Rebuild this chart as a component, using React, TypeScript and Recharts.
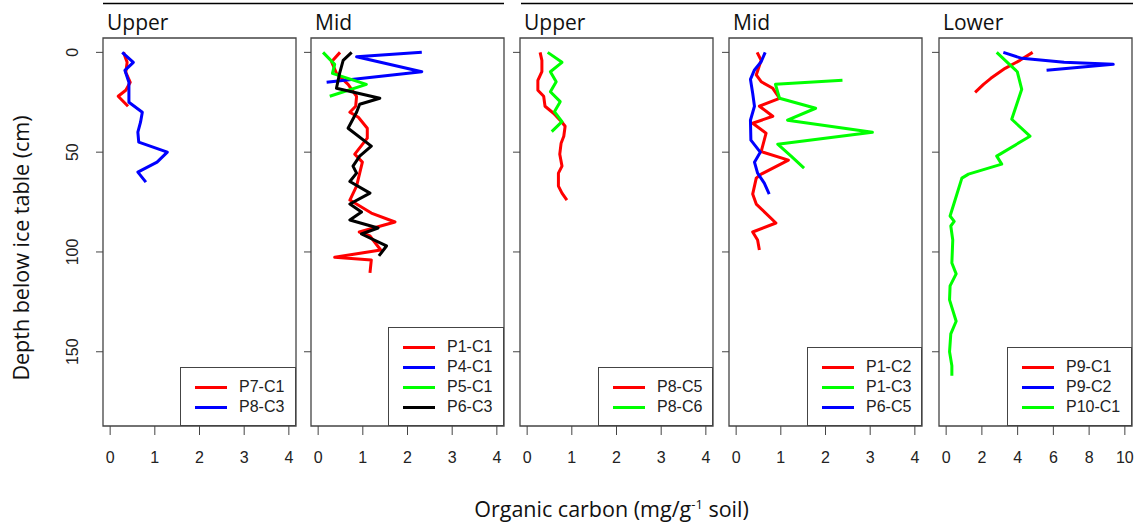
import React from 'react';
import { ScatterChart, Scatter, XAxis, YAxis, Legend, ReferenceArea } from 'recharts';

// each point is [depth below ice table (cm), organic carbon]
const p7c1: [number, number][] = [[0, 0.3], [5, 0.38], [10, 0.35], [15, 0.45], [19, 0.35], [22, 0.18], [27, 0.4]];
const p8c3: [number, number][] = [[0, 0.27], [5, 0.52], [9, 0.33], [15, 0.42], [25, 0.42], [30, 0.72], [35, 0.68], [40, 0.62], [45, 0.64], [50, 1.28], [55, 1.05], [60, 0.62], [65, 0.8]];

const p1c1: [number, number][] = [[0, 0.49], [4.7, 0.3], [10.5, 0.41], [16, 0.67], [22, 0.86], [27, 0.84], [30, 0.71], [32.5, 0.9], [38, 1.1], [43, 1.1], [51, 0.82], [55, 0.99], [60.5, 0.93], [67, 0.86], [74, 0.71], [80.5, 1.19], [85, 1.72], [90, 0.92], [92, 1.16], [99, 1.4], [102.7, 0.37], [104, 1.19], [110.5, 1.16]];
const p4c1: [number, number][] = [[0, 2.32], [2.2, 0.86], [9.7, 2.32], [15, 0.19]];
const p5c1: [number, number][] = [[0, 0.11], [6, 0.37], [10.5, 0.32], [16, 1.08], [22, 0.26]];
const p6c3: [number, number][] = [[0, 0.75], [4, 0.56], [10.5, 0.48], [18, 0.41], [23, 1.38], [26, 0.93], [30, 0.86], [38, 0.67], [47, 1.19], [52, 0.93], [57, 0.78], [60.5, 0.86], [64.7, 0.71], [70.5, 1.16], [76, 0.71], [80, 0.97], [84, 0.71], [88, 1.34], [91, 0.97], [97, 1.53], [102, 1.36]];

const p8c5: [number, number][] = [[0, 0.29], [4, 0.33], [9.7, 0.33], [14, 0.24], [19, 0.24], [22, 0.37], [27, 0.4], [30.5, 0.59], [35, 0.78], [37, 0.85], [42, 0.82], [45.5, 0.76], [51, 0.73], [57, 0.78], [60.5, 0.7], [67, 0.7], [70.5, 0.78], [74, 0.89]];
const p8c6: [number, number][] = [[0, 0.46], [5, 0.78], [9.7, 0.52], [14.7, 0.65], [19.7, 0.52], [24.7, 0.74], [29.7, 0.61], [34.7, 0.78], [39.7, 0.55]];

const p1c2: [number, number][] = [[0, 0.47], [4, 0.56], [11.3, 0.45], [14.7, 0.56], [18, 0.82], [23, 0.97], [27, 0.52], [32, 0.82], [35.5, 0.37], [40.5, 0.67], [49.7, 0.56], [54, 1.17], [61, 0.56], [63, 0.45], [71, 0.37], [76, 0.45], [85.5, 0.89], [90, 0.37], [94, 0.48], [99, 0.52]];
const p1c3: [number, number][] = [[14, 2.38], [16, 0.88], [23, 0.97], [28, 1.78], [34, 1.15], [40, 3.05], [46, 0.93], [52, 1.23], [58, 1.52]];
const p6c5: [number, number][] = [[0, 0.65], [4.7, 0.56], [8.8, 0.41], [13.5, 0.32], [20.5, 0.37], [27, 0.41], [34, 0.32], [44, 0.33], [50, 0.54], [55, 0.41], [60.5, 0.48], [65.5, 0.63], [71, 0.74]];

const p9c1: [number, number][] = [[0, 4.84], [4, 4.13], [8, 3.3], [13, 2.5], [16, 2.09], [20, 1.62]];
const p9c2: [number, number][] = [[0, 3.2], [3, 4.23], [5, 6.6], [6, 9.35], [9, 5.62]];
const p10c1: [number, number][] = [[0, 2.83], [5.5, 3.48], [9.7, 3.98], [18.5, 4.23], [33.5, 3.67], [42, 4.69], [52, 2.83], [56, 3.11], [61, 1.25], [63, 0.88], [74, 0.5], [82, 0.22], [84.7, 0.45], [87, 0.26], [94, 0.37], [105.5, 0.32], [111, 0.56], [117, 0.22], [124, 0.19], [134.7, 0.56], [141, 0.26], [150, 0.19], [157, 0.32], [162, 0.32]];

const depthTicks = [0, 50, 100, 150];
const ticks4 = [0, 1, 2, 3, 4];
const ticks10 = [0, 2, 4, 6, 8, 10];

const RED = '#ff0000';
const BLUE = '#0000ff';
const GREEN = '#00ff00';
const BLACK = '#000000';

const panels = [
  { title: 'Upper', left: 103, xMax: 4, xTicks: ticks4, legendW: 116, series: [
    { name: 'P7-C1', color: RED, data: p7c1 },
    { name: 'P8-C3', color: BLUE, data: p8c3 },
  ] },
  { title: 'Mid', left: 311, xMax: 4, xTicks: ticks4, legendW: 116, series: [
    { name: 'P1-C1', color: RED, data: p1c1 },
    { name: 'P4-C1', color: BLUE, data: p4c1 },
    { name: 'P5-C1', color: GREEN, data: p5c1 },
    { name: 'P6-C3', color: BLACK, data: p6c3 },
  ] },
  { title: 'Upper', left: 520, xMax: 4, xTicks: ticks4, legendW: 115, series: [
    { name: 'P8-C5', color: RED, data: p8c5 },
    { name: 'P8-C6', color: GREEN, data: p8c6 },
  ] },
  { title: 'Mid', left: 729, xMax: 4, xTicks: ticks4, legendW: 115, series: [
    { name: 'P1-C2', color: RED, data: p1c2 },
    { name: 'P1-C3', color: GREEN, data: p1c3 },
    { name: 'P6-C5', color: BLUE, data: p6c5 },
  ] },
  { title: 'Lower', left: 939, xMax: 10, xTicks: ticks10, legendW: 125, series: [
    { name: 'P9-C1', color: RED, data: p9c1 },
    { name: 'P9-C2', color: BLUE, data: p9c2 },
    { name: 'P10-C1', color: GREEN, data: p10c1 },
  ] },
];

const BOX_TOP = 38;
const BOX_H = 388;
const BOX_W = 193;
const X_H = 60;
const D_MIN = -7.2;
const D_MAX = 187.2;
const AXIS_COLOR = '#444';
const TICK_FONT = '"Liberation Sans", Arial, sans-serif';
const LABEL_FONT = '"Open Sans", sans-serif';

const toPoints = (pairs: [number, number][]) => pairs.map(([d, x]) => ({ d, x }));

const DepthTick = (props: any) => {
  const { x, y, payload } = props;
  return (
    <text transform={`translate(${x - 16}, ${y}) rotate(-90)`} textAnchor="middle"
      fontSize={16} fontFamily={TICK_FONT} fill="#222">
      {payload.value}
    </text>
  );
};

const NoTick = () => <g />;
const NoDot = () => <g />;

const LegendBox = ({ payload, order }: any) => {
  // keep the legend in the order the series were drawn
  const items = [...(payload || [])].sort((a: any, b: any) => order.indexOf(a.value) - order.indexOf(b.value));
  return (
    <div style={{ boxSizing: 'border-box', width: '100%', height: '100%', border: `1.3px solid ${AXIS_COLOR}`,
      background: '#fff', paddingTop: 9 }}>
      {items.map((e: any) => (
        <div key={e.value} style={{ height: 20, display: 'flex', alignItems: 'center' }}>
          <span style={{ width: 32, height: 3, background: e.color, marginLeft: 14, marginRight: 12 }} />
          <span style={{ fontFamily: TICK_FONT, fontSize: 16, color: '#222', lineHeight: '20px' }}>{e.value}</span>
        </div>
      ))}
    </div>
  );
};

const Panel = ({ p, first }: { p: typeof panels[number]; first: boolean }) => {
  const yW = first ? 50 : 12;
  const pad = p.xMax * 0.04;
  const legendH = p.series.length * 20 + 19;
  const order = p.series.map((s) => s.name);
  return (
    <div style={{ position: 'absolute', left: p.left - yW, top: BOX_TOP - 2 }}>
      <ScatterChart width={yW + BOX_W + 3} height={2 + BOX_H + X_H} margin={{ top: 2, right: 3, bottom: 0, left: 0 }}>
        <XAxis type="number" dataKey="x" domain={[-pad, p.xMax + pad]} ticks={p.xTicks} interval={0}
          allowDataOverflow axisLine={false} tickSize={9} tickMargin={17} height={X_H}
          tickLine={{ stroke: AXIS_COLOR }} tick={{ fill: '#222', fontSize: 16, fontFamily: TICK_FONT }} />
        <YAxis type="number" dataKey="d" reversed domain={[D_MIN, D_MAX]} ticks={depthTicks} interval={0}
          allowDataOverflow axisLine={false} tickSize={7} width={yW}
          tickLine={{ stroke: AXIS_COLOR }} tick={first ? <DepthTick /> : <NoTick />} />
        <ReferenceArea x1={-pad} x2={p.xMax + pad} y1={D_MIN} y2={D_MAX} fill="none"
          stroke={AXIS_COLOR} strokeWidth={1.3} ifOverflow="visible" />
        {p.series.map((s) => (
          <Scatter key={s.name} name={s.name} data={toPoints(s.data)} fill={s.color} shape={NoDot}
            line={{ stroke: s.color, strokeWidth: 3, strokeLinejoin: 'round' }} lineJointType="linear"
            isAnimationActive={false} />
        ))}
        <Legend layout="vertical" align="center" verticalAlign="middle" content={<LegendBox order={order} />}
          wrapperStyle={{ left: yW + BOX_W - p.legendW, top: 2 + BOX_H - legendH, width: p.legendW, height: legendH }} />
      </ScatterChart>
    </div>
  );
};

export default function App() {
  return (
    <div style={{ position: 'absolute', left: 0, top: 0, width: 1143, height: 527, background: '#fff' }}>
      {panels.map((p, i) => <Panel key={i} p={p} first={i === 0} />)}
      <svg width={1143} height={527} style={{ position: 'absolute', left: 0, top: 0, pointerEvents: 'none' }}>
        <line x1={103} x2={504} y1={3.5} y2={3.5} stroke="#000" strokeWidth={1.3} />
        <line x1={521} x2={1133} y1={3.5} y2={3.5} stroke="#000" strokeWidth={1.3} />
        {panels.map((p, i) => (
          <text key={i} x={p.left + 4} y={29.5} fontSize={21} fontFamily={LABEL_FONT} fill="#111">{p.title}</text>
        ))}
        <text transform="translate(28.5, 248) rotate(-90)" textAnchor="middle" fontSize={21.5}
          fontFamily={LABEL_FONT} fill="#111">Depth below ice table (cm)</text>
        <text x={611.5} y={517} textAnchor="middle" fontSize={21.5} fontFamily={LABEL_FONT} fill="#111">
          Organic carbon (mg/g<tspan dy={-8} fontSize={13}>-1</tspan><tspan dy={8}> soil)</tspan>
        </text>
      </svg>
    </div>
  );
}
